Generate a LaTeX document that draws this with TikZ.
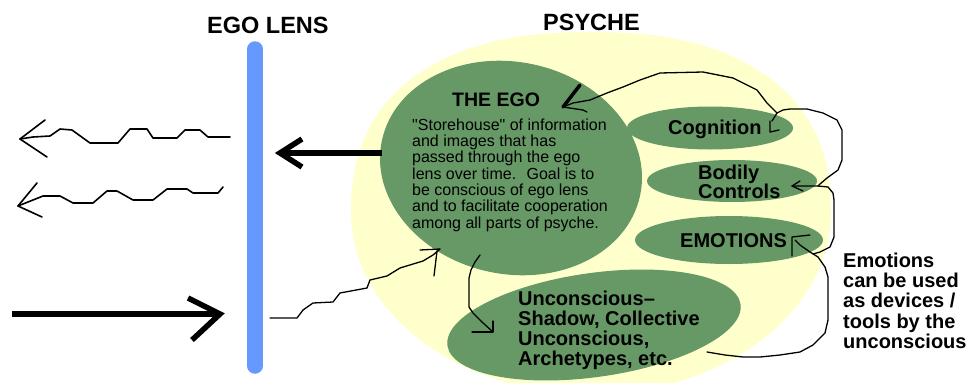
\documentclass[tikz,border=0pt]{standalone}
\usepackage{fontspec}
\setmainfont{Liberation Sans}[Ligatures=TeXOff]
\usetikzlibrary{shapes.geometric}
\definecolor{psyyellow}{HTML}{FFFFCC}
\definecolor{psygreen}{HTML}{669966}
\definecolor{lensblue}{HTML}{6699FF}
\newcommand{\mlines}[1]{\begin{tabular}[t]{@{}l@{}}#1\end{tabular}}
\tikzset{
  blob/.style={ellipse, fill=psygreen, draw=none, inner sep=0pt},
  hand/.style={line width=1.3pt, line join=round, line cap=round, black},
  wave/.style={line width=1.6pt, line join=round, line cap=round, black},
  fat/.style={line width=5.5pt, line join=miter, line cap=butt, black},
  lbl/.style={inner sep=0pt, anchor=base west, font=\fontsize{20}{20}\selectfont\bfseries},
  bodytxt/.style={inner sep=0pt, anchor=base west, font=\fontsize{16}{16}\selectfont},
  ttl/.style={inner sep=0pt, anchor=base west, font=\fontsize{23.5}{24}\selectfont\bfseries}
}
\begin{document}
\begin{tikzpicture}[x=1pt,y=-1pt]
\useasboundingbox (0,0) rectangle (967,383);
\clip (0,0) rectangle (967,383);
\fill[white] (0,0) rectangle (967,383);
% psyche area: upper half slightly squarish, lower half elliptic
\fill[psyyellow]
  plot[domain=181:359, samples=60] ({591+240*sign(cos(\x))*abs(cos(\x))^0.85}, {213-181*abs(sin(\x))^0.85})
  -- plot[domain=1:179, samples=60] ({591+240*cos(\x)}, {213+181*sin(\x)}) -- cycle;
% ellipses
\node[blob, minimum width=264pt, minimum height=212pt, rotate=-12] (ego) at (511,168) {};
\node[blob, minimum width=166pt, minimum height=43pt] (cog) at (710,128) {};
\node[blob, minimum width=170pt, minimum height=42pt] (body) at (732,181) {};
\node[blob, minimum width=188pt, minimum height=48pt] (emo) at (729,240) {};
\node[blob, minimum width=296pt, minimum height=104pt, rotate=8] (unc) at (594,325) {};
% lens
\coordinate (lenstop) at (255,49);
\coordinate (lensbot) at (255,366);
\draw[line width=15.5pt, lensblue, line cap=round] (lenstop) -- (lensbot);
% texts
\node[ttl] (lenslabel) at (207,33) {EGO LENS};
\node[ttl] (psychelabel) at (543,30) {PSYCHE};
\node[lbl, font=\fontsize{19.5}{20}\selectfont\bfseries] (egotitle) at (452,106) {THE EGO};
\node[bodytxt] (egotext) at (412,130) {\mlines{"Storehouse" of information\\and images that has\\passed through the ego\\lens over time.~ Goal is to\\be conscious of ego lens\\and to facilitate cooperation\\among all parts of psyche.}};
\node[lbl] (cogtext) at (668,134) {Cognition};
\node[lbl, font=\fontsize{20}{18.3}\selectfont\bfseries] (bodytext) at (698,179) {\mlines{Bodily\\Controls}};
\node[lbl] (emotext) at (680,247) {EMOTIONS};
\node[lbl, font=\fontsize{20}{19.2}\selectfont\bfseries] (unctext) at (518,305) {\mlines{Unconscious–\\Shadow, Collective\\Unconscious,\\Archetypes, etc.}};
\node[lbl] (emolabel) at (843,267) {\mlines{Emotions\\can be used\\as devices /\\tools by the\\unconscious}};
% wavy arrow top
\coordinate (w1s) at (230,137);
\coordinate (w1t) at (20,139);
\draw[wave] (w1s) -- (208,137) -- (200,130) -- (185,130) -- (177,138) -- (153,138) -- (147,129) -- (130,129) -- (118,143) -- (90,143) -- (72,130) -- (60,129) -- (50,136) -- (33,137) -- (w1t);
\draw[wave] (45,120) -- (w1t) -- (47,157);
% wavy arrow bottom
\coordinate (w2s) at (223,187);
\coordinate (w2t) at (18,206);
\draw[wave] (w2s) -- (218,193) -- (193,193) -- (187,189) -- (167,189) -- (153,200) -- (133,200) -- (117,191) -- (107,191) -- (93,203) -- (73,203) -- (60,196) -- (43,196) -- (33,200) -- (w2t);
\draw[wave] (37,183) -- (w2t) -- (42,217);
% thick arrow ego -> lens
\coordinate (ta1s) at (382,153);
\coordinate (ta1t) at (280,153);
\draw[fat] (ta1s) -- (ta1t);
\draw[fat] (302,139) -- (ta1t) -- (302,167);
% thick arrow into lens
\coordinate (ta2s) at (12,314);
\coordinate (ta2t) at (220,314);
\draw[fat] (ta2s) -- (ta2t);
\draw[fat] (188,298) -- (ta2t) -- (192,340);
% staircase lens -> ego
\coordinate (sts) at (270,318);
\coordinate (stt) at (440,249);
\draw[hand] (sts) -- (297,318) -- (303,310) -- (313,303) -- (333,302) -- (340,293) -- (367,288) -- (370,280) -- (387,276) -- (400,268) -- (423,261) -- (433,255) -- (stt);
\draw[hand] (420,250) -- (stt);
\draw[hand] (437,251) -- (434,276);
% ego -> unconscious
\coordinate (eus) at (480,255);
\coordinate (eut) at (493,332);
\draw[hand] (eus) -- (475,262) -- (471,270) -- (469,278) -- (469,307) -- (473,313) -- (482,322) -- (eut);
\draw[hand] (472,332) -- (eut) -- (493,321);
% cognition <-> ego
\coordinate (egotip) at (563,107);
\coordinate (cogjct) at (777,113);
\coordinate (cogtip) at (770,132);
\draw[hand] (egotip) -- (573,103) -- (590,100) -- (607,93) -- (623,87) -- (640,80) -- (660,73) -- (703,72) -- (733,78) -- (757,90) -- (767,103) -- (cogjct) -- (772,121);
\draw[line width=3.5pt, line cap=round] (egotip) -- (580,85);
\draw[hand] (egotip) -- (583,110) -- (587,112);
\draw[hand] (770,121) -- (cogtip) -- (779,130);
% loop cognition -> bodily controls
\coordinate (jct) at (818,186);
\coordinate (bodytip) at (792,186);
\draw[hand] (cogjct) -- (783,110) -- (790,109) -- (807,109) -- (823,113) -- (837,120) -- (842,130) -- (842,160) -- (838,170) -- (827,178) -- (820,184) -- (jct) -- (bodytip);
\draw[hand] (800,181) -- (bodytip) -- (803,191);
% bodily -> emotions
\coordinate (emoend) at (813,254);
\draw[hand] (jct) -- (828,187) -- (833,193) -- (834,200) -- (834,237) -- (830,247) -- (820,252) -- (emoend);
% archetypes -> emotions
\coordinate (archs) at (707,352);
\coordinate (emotip) at (792,237);
\draw[hand] (archs) -- (725,355) -- (743,357) -- (760,357) -- (780,355) -- (800,352) -- (813,345) -- (825,333) -- (828,320) -- (828,277) -- (825,267) -- (818,257) -- (810,252) -- (800,245) -- (795,240);
\draw[hand] (810,235) -- (emotip) -- (792,256);
\end{tikzpicture}
\end{document}
